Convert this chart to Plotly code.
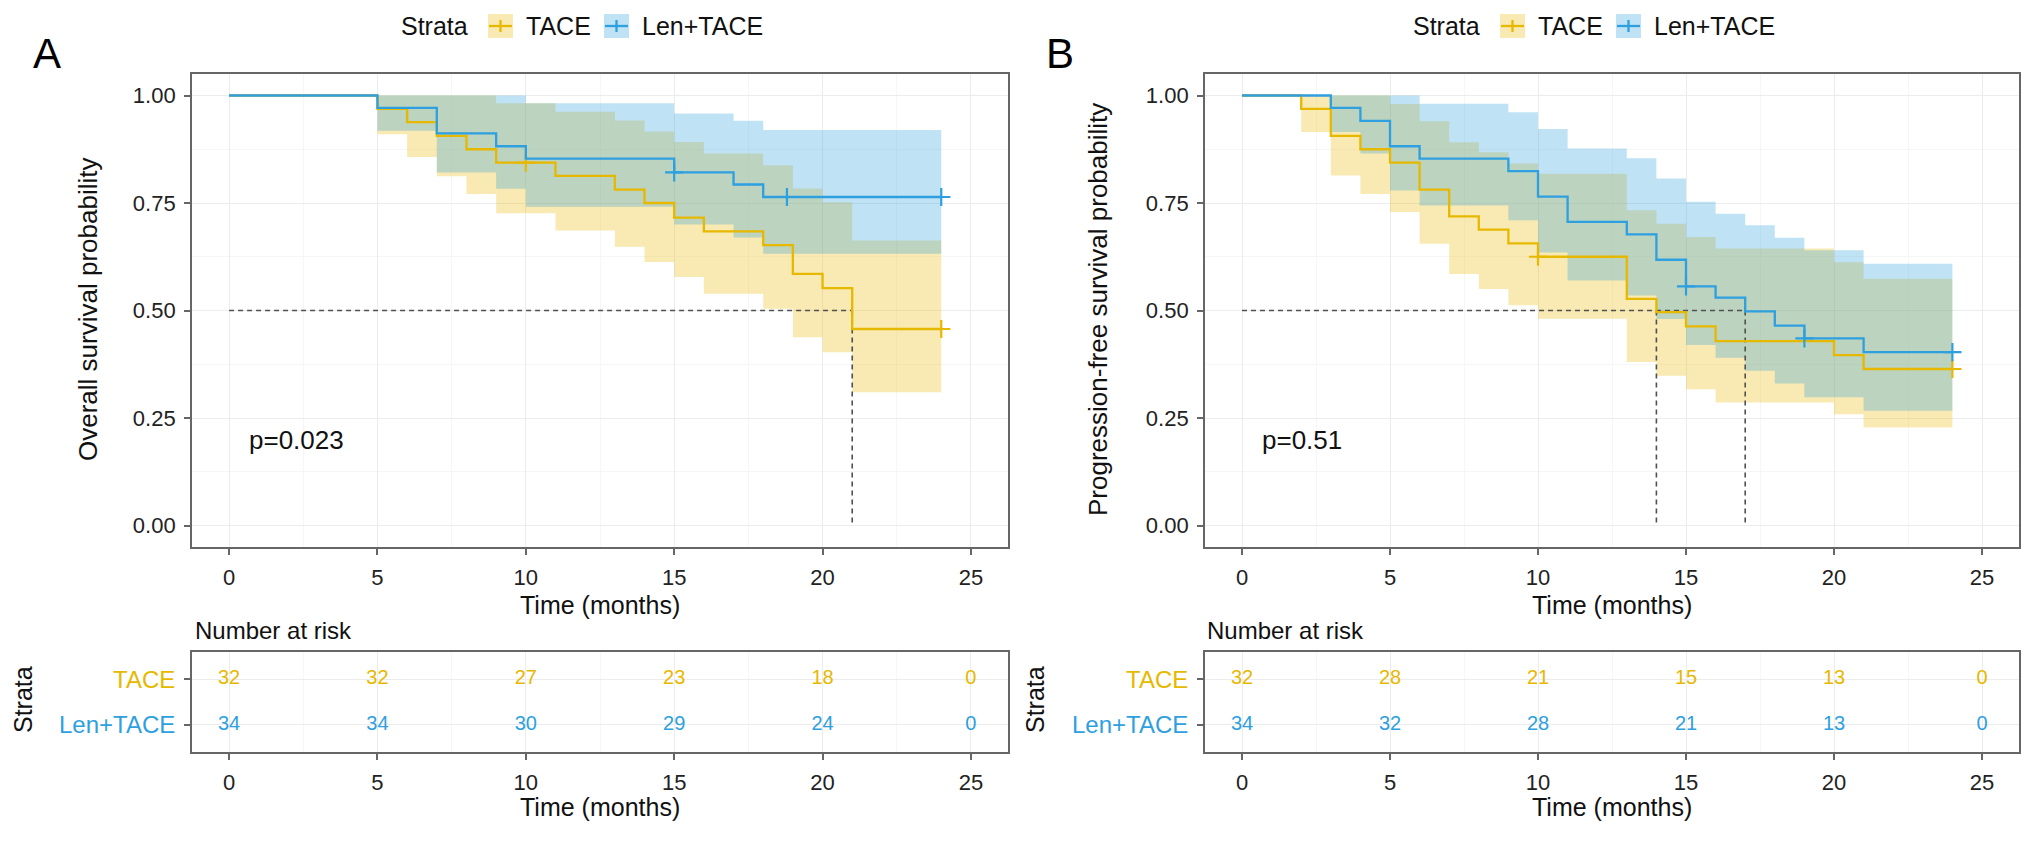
import plotly.graph_objects as go

# ---------------- data ----------------
risk_times = [0, 5, 10, 15, 20, 25]

# Panel A : overall survival
A_tace_t     = [0, 5, 6, 7, 8, 9, 11, 13, 14, 15, 16, 18, 19, 20, 21, 24]
A_tace_s     = [1.0, 0.969, 0.938, 0.906, 0.875, 0.844, 0.813, 0.781, 0.750, 0.716, 0.684, 0.652, 0.585, 0.552, 0.457, 0.457]
A_tace_up    = [1.0, 1.0, 1.0, 1.0, 1.0, 0.982, 0.962, 0.942, 0.916, 0.892, 0.865, 0.838, 0.784, 0.752, 0.663, 0.663]
A_tace_lo    = [1.0, 0.910, 0.857, 0.812, 0.771, 0.726, 0.686, 0.648, 0.613, 0.578, 0.539, 0.504, 0.438, 0.403, 0.310, 0.310]
A_tace_cens_t = [10, 24]
A_tace_cens_s = [0.844, 0.457]

A_len_t      = [0, 5, 7, 9, 10, 15, 17, 18, 24]
A_len_s      = [1.0, 0.971, 0.912, 0.882, 0.853, 0.821, 0.793, 0.764, 0.764]
A_len_up     = [1.0, 1.0, 1.0, 1.0, 0.982, 0.958, 0.941, 0.920, 0.920]
A_len_lo     = [1.0, 0.918, 0.821, 0.783, 0.741, 0.700, 0.670, 0.632, 0.632]
A_len_cens_t = [15, 18.8, 24]
A_len_cens_s = [0.821, 0.764, 0.764]

A_medians = [21]
A_pval = "p=0.023"
A_risk_tace = [32, 32, 27, 23, 18, 0]
A_risk_len  = [34, 34, 30, 29, 24, 0]

# Panel B : progression-free survival
B_tace_t     = [0, 2, 3, 4, 5, 6, 7, 8, 9, 10, 13, 14, 15, 16, 20, 21, 24]
B_tace_s     = [1.0, 0.969, 0.906, 0.875, 0.844, 0.781, 0.719, 0.688, 0.656, 0.625, 0.527, 0.496, 0.463, 0.429, 0.396, 0.364, 0.364]
B_tace_up    = [1.0, 1.0, 1.0, 1.0, 0.980, 0.940, 0.891, 0.868, 0.842, 0.818, 0.733, 0.702, 0.671, 0.644, 0.612, 0.574, 0.574]
B_tace_lo    = [1.0, 0.915, 0.814, 0.771, 0.729, 0.655, 0.585, 0.550, 0.512, 0.481, 0.380, 0.348, 0.317, 0.286, 0.259, 0.228, 0.228]
B_tace_cens_t = [10, 24]
B_tace_cens_s = [0.625, 0.364]

B_len_t      = [0, 3, 4, 5, 6, 9, 10, 11, 13, 14, 15, 16, 17, 18, 19, 21, 24]
B_len_s      = [1.0, 0.971, 0.941, 0.882, 0.853, 0.824, 0.765, 0.706, 0.677, 0.618, 0.556, 0.530, 0.498, 0.465, 0.435, 0.403, 0.403]
B_len_up     = [1.0, 1.0, 1.0, 1.0, 0.981, 0.961, 0.922, 0.877, 0.854, 0.807, 0.753, 0.725, 0.698, 0.669, 0.640, 0.609, 0.609]
B_len_lo     = [1.0, 0.915, 0.865, 0.779, 0.744, 0.710, 0.635, 0.570, 0.535, 0.480, 0.420, 0.390, 0.360, 0.330, 0.298, 0.267, 0.267]
B_len_cens_t = [15, 19, 24]
B_len_cens_s = [0.556, 0.435, 0.403]

B_medians = [14, 17]
B_pval = "p=0.51"
B_risk_tace = [32, 28, 21, 15, 13, 0]
B_risk_len  = [34, 32, 28, 21, 13, 0]

groups = ["TACE", "Len+TACE"]

# ---------------- styling ----------------
W, H = 2032, 841
FONT = "Liberation Sans, Arial, Helvetica, sans-serif"
C_TACE = "#E7B800"
C_LEN = "#2E9FDF"
F_TACE = "rgba(231,184,0,0.30)"
F_LEN = "rgba(46,159,223,0.30)"
BORDER = "#666666"
GRID = "#ECECEC"
GRID_MINOR = "#F6F6F6"


def px(x):
    return x / W


def py(y):
    return 1 - y / H


fig = go.Figure()

panels = [
    dict(xa="x", ya="y", xr="x3", yr="y3",
         tace=(A_tace_t, A_tace_s, A_tace_up, A_tace_lo, A_tace_cens_t, A_tace_cens_s),
         len=(A_len_t, A_len_s, A_len_up, A_len_lo, A_len_cens_t, A_len_cens_s),
         med=A_medians, risk=(A_risk_tace, A_risk_len)),
    dict(xa="x2", ya="y2", xr="x4", yr="y4",
         tace=(B_tace_t, B_tace_s, B_tace_up, B_tace_lo, B_tace_cens_t, B_tace_cens_s),
         len=(B_len_t, B_len_s, B_len_up, B_len_lo, B_len_cens_t, B_len_cens_s),
         med=B_medians, risk=(B_risk_tace, B_risk_len)),
]

for p in panels:
    xa, ya = p["xa"], p["ya"]
    series = [(p["tace"], C_TACE, F_TACE, "TACE"), (p["len"], C_LEN, F_LEN, "Len+TACE")]
    # confidence bands
    for (t, s, up, lo, ct, cs), col, fcol, name in series:
        fig.add_trace(go.Scatter(x=t, y=up, xaxis=xa, yaxis=ya, mode="lines",
                                 line=dict(width=0, shape="hv", color=fcol),
                                 showlegend=False, hoverinfo="skip"))
        fig.add_trace(go.Scatter(x=t, y=lo, xaxis=xa, yaxis=ya, mode="lines",
                                 line=dict(width=0, shape="hv", color=fcol),
                                 fill="tonexty", fillcolor=fcol,
                                 showlegend=False, hoverinfo="skip"))
    # median lines
    mmax = max(p["med"])
    fig.add_trace(go.Scatter(x=[0, mmax], y=[0.5, 0.5], xaxis=xa, yaxis=ya, mode="lines",
                             line=dict(color="#505050", width=1.6, dash="5px,4px"),
                             showlegend=False, hoverinfo="skip"))
    for m in p["med"]:
        fig.add_trace(go.Scatter(x=[m, m], y=[0.5, 0], xaxis=xa, yaxis=ya, mode="lines",
                                 line=dict(color="#505050", width=1.6, dash="5px,4px"),
                                 showlegend=False, hoverinfo="skip"))
    # survival curves + censor marks
    for (t, s, up, lo, ct, cs), col, fcol, name in series:
        fig.add_trace(go.Scatter(x=t, y=s, xaxis=xa, yaxis=ya, mode="lines", name=name,
                                 line=dict(color=col, width=2.3, shape="hv"),
                                 showlegend=False))
        fig.add_trace(go.Scatter(x=ct, y=cs, xaxis=xa, yaxis=ya, mode="markers",
                                 marker=dict(symbol="cross-thin", size=13,
                                             line=dict(color=col, width=2.2)),
                                 showlegend=False, hoverinfo="skip"))
    # risk table numbers
    for vals, col, row in [(p["risk"][0], C_TACE, 1), (p["risk"][1], C_LEN, 0)]:
        fig.add_trace(go.Scatter(x=risk_times, y=[row] * len(risk_times),
                                 xaxis=p["xr"], yaxis=p["yr"], mode="text",
                                 text=[str(v) for v in vals],
                                 textfont=dict(family=FONT, size=20, color=col),
                                 showlegend=False, hoverinfo="skip"))

# ---------------- axes ----------------
dom_xA = [px(192), px(1008)]
dom_xB = [px(1205), px(2019)]
dom_main = [py(547), py(74)]
dom_risk = [py(752), py(652)]


def xaxis(domain, anchor):
    return dict(domain=domain, anchor=anchor, range=[-1.25, 26.25],
                tick0=0, dtick=5, ticks="outside", ticklen=6, tickwidth=1.5,
                tickcolor=BORDER, showline=True, linecolor=BORDER, linewidth=1.8,
                mirror=True, showgrid=True, gridcolor=GRID, gridwidth=1.4,
                minor=dict(dtick=2.5, tick0=0, showgrid=True, gridcolor=GRID_MINOR, gridwidth=1),
                zeroline=False, tickfont=dict(family=FONT, size=22, color="#222"),
                ticklabelstandoff=4, fixedrange=True)


def yaxis_main(anchor):
    return dict(domain=dom_main, anchor=anchor, range=[-0.05, 1.05],
                tick0=0, dtick=0.25, tickformat=".2f", ticks="outside", ticklen=6,
                tickwidth=1.5, tickcolor=BORDER, showline=True, linecolor=BORDER,
                linewidth=1.8, mirror=True, showgrid=True, gridcolor=GRID, gridwidth=1.4,
                minor=dict(dtick=0.125, tick0=0, showgrid=True, gridcolor=GRID_MINOR, gridwidth=1),
                zeroline=False, tickfont=dict(family=FONT, size=22, color="#222"),
                ticklabelstandoff=4, fixedrange=True)


def yaxis_risk(anchor):
    return dict(domain=dom_risk, anchor=anchor, range=[-0.6, 1.6],
                tickvals=[1, 0],
                ticktext=['<span style="color:%s">%s</span>' % (C_TACE, groups[0]),
                          '<span style="color:%s">%s</span>' % (C_LEN, groups[1])],
                ticks="outside", ticklen=6, tickwidth=1.5, tickcolor=BORDER,
                showline=True, linecolor=BORDER, linewidth=1.8, mirror=True,
                showgrid=True, gridcolor=GRID, gridwidth=1.4, zeroline=False,
                tickfont=dict(family=FONT, size=24, color="#222"),
                ticklabelstandoff=4, fixedrange=True)


fig.update_layout(
    width=W, height=H, autosize=False,
    margin=dict(l=0, r=0, t=0, b=0),
    paper_bgcolor="white", plot_bgcolor="white",
    font=dict(family=FONT, color="#111"),
    showlegend=False,
    xaxis=xaxis(dom_xA, "y"), yaxis=yaxis_main("x"),
    xaxis2=xaxis(dom_xB, "y2"), yaxis2=yaxis_main("x2"),
    xaxis3=xaxis(dom_xA, "y3"), yaxis3=yaxis_risk("x3"),
    xaxis4=xaxis(dom_xB, "y4"), yaxis4=yaxis_risk("x4"),
)

# ---------------- text annotations ----------------
ann = []
shapes = []


def note(text, x, y, size, xanchor="center", angle=0, xref="paper", yref="paper", color="#111"):
    ann.append(dict(text=text, x=x, y=y, xref=xref, yref=yref, xanchor=xanchor,
                    yanchor="middle", textangle=angle, showarrow=False,
                    font=dict(family=FONT, size=size, color=color)))


ytitles = ["Overall survival probability", "Progression-free survival probability"]
pvals = [A_pval, B_pval]
letters = ["A", "B"]
letter_x = [47, 1060]
ytitle_x = [88, 1098]
for i, (dx, xa, ya) in enumerate([(0, "x", "y"), (1012, "x2", "y2")]):
    cx = 600 + dx
    note(letters[i], px(letter_x[i]), py(54), 42, color="#000")
    note(ytitles[i], px(ytitle_x[i]), py(310), 26, angle=-90)
    note("Time (months)", px(cx), py(605), 25)
    note("Time (months)", px(cx), py(807), 25)
    note("Number at risk", px(193 + dx), py(630), 24, xanchor="left")
    note("Strata", px(23 + dx), py(700), 25, angle=-90)
    note(pvals[i], 0.6, 0.2, 26, xanchor="left", xref=xa, yref=ya)
    # legend (drawn above each panel)
    ly = 26
    lx = 399 + dx
    note("Strata", px(lx), py(ly), 25, xanchor="left")
    items = [(C_TACE, F_TACE, groups[0], 488 + dx, 524 + dx),
             (C_LEN, F_LEN, groups[1], 604 + dx, 640 + dx)]
    for col, fcol, name, sx, tx in items:
        shapes.append(dict(type="rect", xref="paper", yref="paper",
                           x0=px(sx), x1=px(sx + 25), y0=py(ly + 12), y1=py(ly - 12),
                           fillcolor=fcol, line=dict(width=0)))
        shapes.append(dict(type="line", xref="paper", yref="paper",
                           x0=px(sx + 1), x1=px(sx + 24), y0=py(ly), y1=py(ly),
                           line=dict(color=col, width=2.3)))
        shapes.append(dict(type="line", xref="paper", yref="paper",
                           x0=px(sx + 12.5), x1=px(sx + 12.5), y0=py(ly - 6), y1=py(ly + 6),
                           line=dict(color=col, width=2.3)))
        note(name, px(tx), py(ly), 25, xanchor="left")

fig.update_layout(annotations=ann, shapes=shapes)

fig.write_html("out.html", config={"displayModeBar": False},
               post_script="document.body.style.margin='0';document.body.style.overflow='hidden';")
